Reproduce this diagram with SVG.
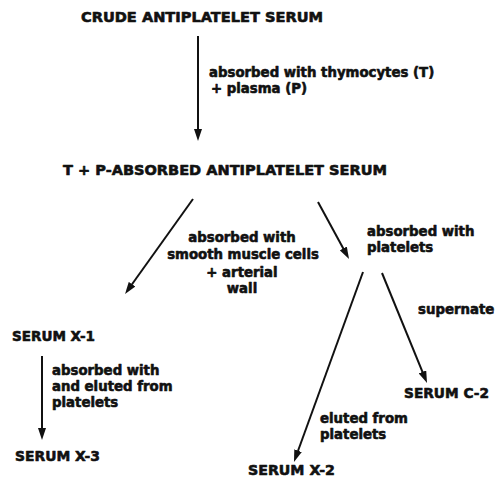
<svg xmlns="http://www.w3.org/2000/svg" width="495" height="478" viewBox="0 0 495 478">
<style>
text { font-family: "DejaVu Sans", "Liberation Sans", sans-serif; font-weight: bold; fill: #111; stroke: #111; stroke-width: 0.6; stroke-linejoin: round; }
.cap { font-size: 14px; }
.lab { font-size: 13.3px; }
.mid { text-anchor: middle; }
.conn line { stroke: #111; stroke-width: 2; fill: none; marker-end: url(#ah); }
</style>
<defs>
<marker id="ah" viewBox="0 0 12 8" refX="4" refY="4" markerWidth="12" markerHeight="8" markerUnits="userSpaceOnUse" orient="auto">
<path d="M0,0 L12,4 L0,8 z" fill="#111"/>
</marker>
</defs>
<rect width="495" height="478" fill="#fff"/>
<g id="crude"><text class="cap" x="81" y="22" textLength="242" lengthAdjust="spacingAndGlyphs">CRUDE ANTIPLATELET SERUM</text></g>
<g id="tp-absorbed"><text class="cap" x="63" y="175" textLength="324" lengthAdjust="spacingAndGlyphs">T + P-ABSORBED ANTIPLATELET SERUM</text></g>
<g id="serum-x1"><text class="cap" x="12" y="341" textLength="83" lengthAdjust="spacingAndGlyphs">SERUM X-1</text></g>
<g id="serum-x3"><text class="cap" x="15" y="461" textLength="85" lengthAdjust="spacingAndGlyphs">SERUM X-3</text></g>
<g id="serum-c2"><text class="cap" x="404" y="398" textLength="85" lengthAdjust="spacingAndGlyphs">SERUM C-2</text></g>
<g id="serum-x2"><text class="cap" x="248" y="475" textLength="87" lengthAdjust="spacingAndGlyphs">SERUM X-2</text></g>
<g id="connectors" class="conn">
<line x1="198" y1="36" x2="198" y2="133"/>
<line x1="193" y1="199" x2="129.7" y2="287.5"/>
<line x1="318" y1="202" x2="345.2" y2="252"/>
<line x1="363" y1="272" x2="296.7" y2="454.5"/>
<line x1="382" y1="273" x2="424" y2="375.6"/>
<line x1="42" y1="356" x2="42" y2="432"/>
</g>
<g id="labels">
<text class="lab" x="209" y="77">absorbed with thymocytes (T)</text>
<text class="lab" x="211" y="93">+ plasma (P)</text>
<text class="lab mid" x="242" y="242">absorbed with</text>
<text class="lab mid" x="243" y="259">smooth muscle cells</text>
<text class="lab mid" x="242" y="277">+ arterial</text>
<text class="lab mid" x="242" y="293">wall</text>
<text class="lab" x="367" y="236">absorbed with</text>
<text class="lab" x="367" y="252">platelets</text>
<text class="lab" x="418" y="314">supernate</text>
<text class="lab" x="52" y="375">absorbed with</text>
<text class="lab" x="52" y="391">and eluted from</text>
<text class="lab" x="52" y="407">platelets</text>
<text class="lab" x="320" y="423">eluted from</text>
<text class="lab" x="320" y="439">platelets</text>
</g>
</svg>
